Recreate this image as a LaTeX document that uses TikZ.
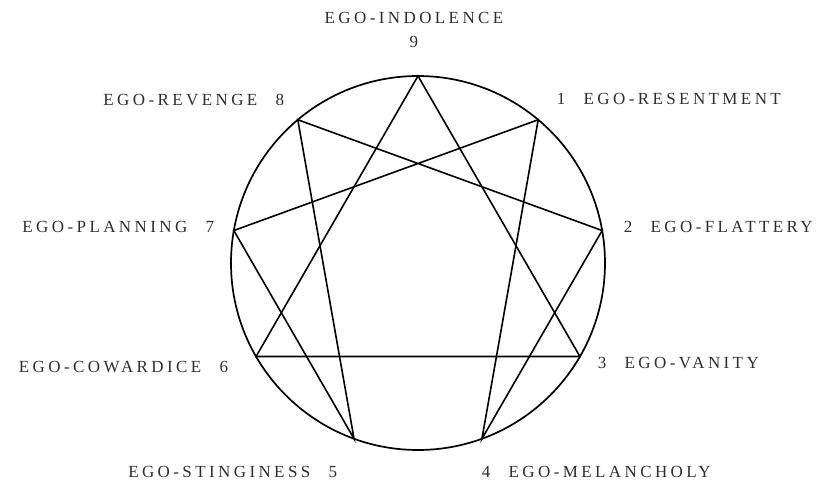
\documentclass[tikz,border=0pt]{standalone}
\usepackage{fontspec}
\setmainfont{Liberation Serif}
\newfontfamily\egofont[LetterSpace=20]{Liberation Serif}
\usepackage{tikz}
\usetikzlibrary{positioning}
\definecolor{inkgray}{HTML}{2E2E2E}

\begin{document}
\begin{tikzpicture}[x=1pt,y=1pt,
  node distance=18pt,
  num/.style={inner sep=0pt,font=\fontsize{17}{17}\selectfont,text=inkgray},
  ego/.style={inner sep=0pt,font=\fontsize{17}{17}\egofont,text=inkgray},
  ring/.style={line width=1.7pt},
  chord/.style={line width=1.6pt,line join=miter}
]
\useasboundingbox (-418,-222) rectangle (404,263);
\coordinate (c) at (0,0);
\draw[ring] (c) circle (187);
% points on the circle, p0 is 9 at the top
\foreach \k in {0,...,8}
  \coordinate (p\k) at ({90-40*\k}:187);
\draw[chord] (p0)--(p3)--(p6)--cycle;
\draw[chord] (p1)--(p4)--(p2)--(p8)--(p5)--(p7)--cycle;

% numbers
\node[num] (n9) at (-4,221) {9};
\node[num] (n1) at (143,164) {1};
\node[num] (n2) at (210,36) {2};
\node[num] (n3) at (184,-100) {3};
\node[num] (n4) at (68,-209) {4};
\node[num] (n5) at (-85,-209) {5};
\node[num] (n6) at (-194,-104) {6};
\node[num] (n7) at (-208,36) {7};
\node[num] (n8) at (-138,163) {8};

% labels
\node[ego,above=12pt of n9] (t9) {EGO-INDOLENCE};
\node[ego,right=of n1] (t1) {EGO-RESENTMENT};
\node[ego,right=of n2] (t2) {EGO-FLATTERY};
\node[ego,right=of n3] (t3) {EGO-VANITY};
\node[ego,right=of n4] (t4) {EGO-MELANCHOLY};
\node[ego,left=of n5] (t5) {EGO-STINGINESS};
\node[ego,left=of n6] (t6) {EGO-COWARDICE};
\node[ego,left=of n7] (t7) {EGO-PLANNING};
\node[ego,left=of n8] (t8) {EGO-REVENGE};
\end{tikzpicture}
\end{document}
